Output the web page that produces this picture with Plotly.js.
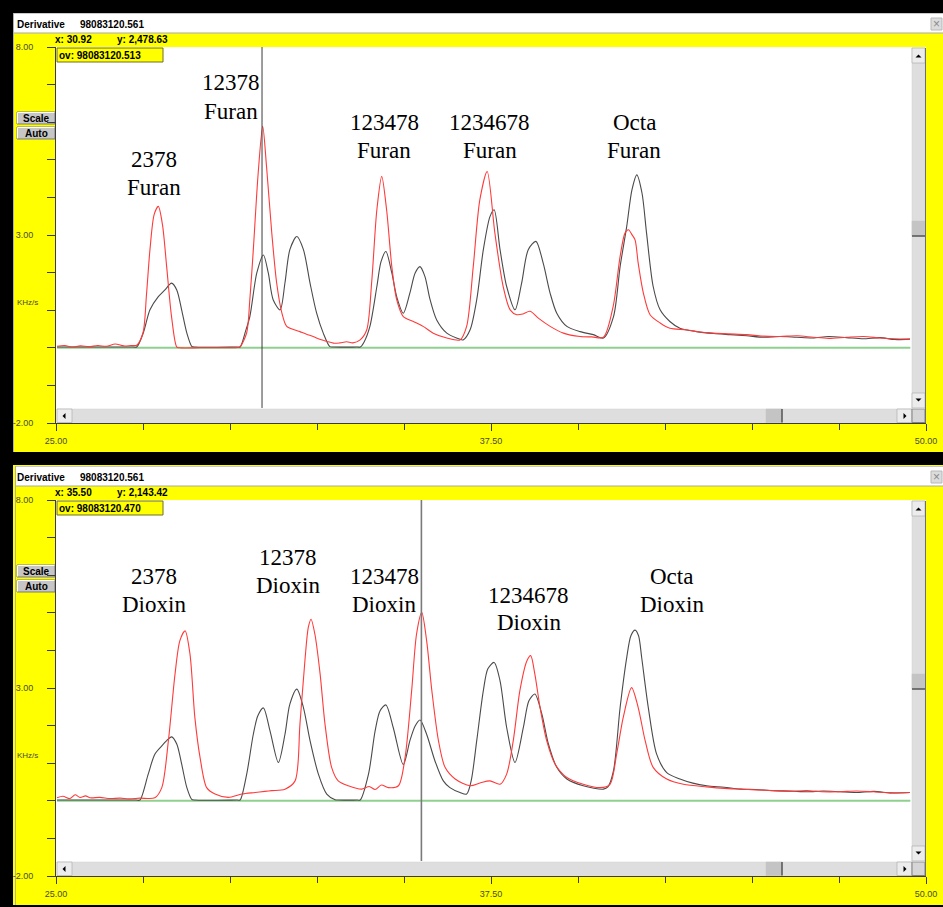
<!DOCTYPE html>
<html><head><meta charset="utf-8">
<script src="https://cdn.plot.ly/plotly-3.0.1.min.js"></script>
<style>html,body{margin:0;padding:0;background:#ffff00;} #chart{width:943px;height:907px;}</style>
</head><body><div id="chart"></div><script>
// ---------------- DATA ----------------
const runId = '98083120.561';
const ovValues = ['98083120.513', '98083120.470'];
const cursorX = [30.92, 35.50];
const cursorY = [2478.63, 2143.42];

const xTickVals = [25, 37.5, 50];
const yTickVals = [-2, 3, 8];

const isomers = ['2378', '12378', '123478', '1234678', 'Octa'];
const furanName = 'Furan';
const dioxinName = 'Dioxin';

const baselineX = [25.03, 49.55];
const baselineY = [0, 0];

// top panel: furans, red trace
const furanRedX = [
25.03, 25.25, 25.45, 25.70, 25.95, 26.20, 26.45, 26.70, 26.95, 27.15,
27.32, 27.50, 27.60, 27.70, 27.82, 27.94, 28.06, 28.18, 28.32, 28.47,
28.55, 29.14, 30.22, 30.29, 30.48, 30.57, 30.67, 30.81, 30.94, 31.05,
31.20, 31.34, 31.49, 31.63, 32.01, 32.20, 32.39, 32.60, 32.78, 33.00,
33.16, 33.35, 33.53, 33.74, 33.93, 34.07, 34.22, 34.36, 34.50, 34.65,
34.79, 34.98, 35.27, 35.55, 35.84, 36.23, 36.61, 36.80, 36.99, 37.18,
37.39, 37.61, 37.85, 38.05, 38.24, 38.42, 38.62, 38.86, 39.20, 39.58,
40.06, 40.40, 40.73, 41.01, 41.21, 41.35, 41.45, 41.55, 41.64, 41.73,
41.88, 42.07, 42.36, 42.64, 43.12, 43.50, 43.89, 44.30, 44.85, 45.30,
45.80, 46.30, 46.76, 47.20, 47.72, 48.20, 48.68, 49.10, 49.54];
const furanRedY = [
0.04, 0.06, 0.02, 0.05, 0.03, 0.06, 0.04, 0.10, 0.05, 0.06,
0.07, 0.40, 1.41, 2.61, 3.54, 3.76, 3.27, 2.16, 0.83, 0.02,
0.00, 0.00, 0.01, 0.03, 0.40, 1.28, 2.61, 4.65, 5.89, 4.82,
3.06, 1.73, 0.93, 0.57, 0.43, 0.36, 0.30, 0.22, 0.17, 0.12,
0.13, 0.16, 0.13, 0.21, 0.48, 1.73, 3.67, 4.56, 3.67, 2.16,
1.28, 0.83, 0.70, 0.57, 0.39, 0.26, 0.21, 0.57, 2.16, 3.94,
4.69, 3.06, 1.63, 1.01, 0.88, 0.90, 0.97, 0.79, 0.57, 0.39,
0.30, 0.29, 0.28, 1.10, 2.43, 3.05, 3.14, 3.01, 2.87, 2.25,
1.45, 0.88, 0.66, 0.52, 0.48, 0.42, 0.39, 0.37, 0.35, 0.31,
0.30, 0.32, 0.28, 0.25, 0.28, 0.30, 0.26, 0.24, 0.23];

// top panel: furans, dark grey trace
const furanGreyX = [
25.03, 25.20, 27.22, 27.32, 27.51, 27.70, 27.94, 28.13, 28.32, 28.47,
28.61, 28.76, 28.90, 28.98, 30.21, 30.29, 30.45, 30.57, 30.77, 30.96,
31.10, 31.24, 31.44, 31.58, 31.72, 31.92, 32.11, 32.30, 32.49, 32.68,
32.87, 32.97, 33.66, 33.74, 33.85, 34.02, 34.22, 34.34, 34.48, 34.65,
34.79, 34.98, 35.17, 35.32, 35.46, 35.60, 35.75, 35.94, 36.23, 36.51,
36.70, 36.90, 37.09, 37.28, 37.47, 37.59, 37.76, 37.95, 38.19, 38.38,
38.57, 38.79, 39.00, 39.20, 39.39, 39.68, 40.06, 40.44, 40.73, 41.02,
41.21, 41.40, 41.55, 41.69, 41.84, 41.97, 42.16, 42.36, 42.64, 42.93,
43.41, 43.90, 44.37, 44.85, 45.33, 45.80, 46.28, 46.75, 47.20, 47.72,
48.20, 48.68, 49.10, 49.54];
const furanGreyY = [
0.02, 0.02, 0.02, 0.02, 0.40, 1.01, 1.36, 1.54, 1.72, 1.54,
1.01, 0.39, 0.04, 0.02, 0.02, 0.02, 0.45, 0.83, 1.99, 2.47,
1.99, 1.28, 1.01, 1.73, 2.61, 2.96, 2.61, 1.72, 0.92, 0.39,
0.03, 0.02, 0.02, 0.02, 0.15, 0.57, 1.63, 2.29, 2.56, 1.99,
1.36, 0.92, 1.46, 1.99, 2.16, 1.90, 1.28, 0.74, 0.39, 0.26,
0.21, 0.48, 1.28, 2.61, 3.49, 3.67, 2.61, 1.63, 1.01, 1.72,
2.61, 2.83, 2.25, 1.45, 0.92, 0.57, 0.43, 0.35, 0.26, 0.83,
2.16, 3.23, 4.20, 4.60, 4.11, 3.05, 1.63, 1.01, 0.70, 0.52,
0.43, 0.38, 0.35, 0.32, 0.28, 0.30, 0.28, 0.26, 0.30, 0.27,
0.24, 0.27, 0.22, 0.23];

// bottom panel: dioxins, red trace
const dioxinRedX = [
25.03, 25.20, 25.40, 25.55, 25.69, 25.85, 25.98, 26.26, 26.55, 26.84,
27.10, 27.41, 27.84, 28.04, 28.23, 28.42, 28.56, 28.71, 28.85, 28.99,
29.14, 29.33, 29.57, 29.95, 30.34, 30.72, 31.00, 31.20, 31.58, 31.87,
32.01, 32.16, 32.25, 32.33, 32.44, 32.59, 32.73, 32.92, 33.11, 33.40,
33.78, 34.00, 34.17, 34.35, 34.55, 34.84, 35.03, 35.22, 35.36, 35.51,
35.65, 35.80, 35.99, 36.18, 36.47, 36.90, 37.20, 37.47, 37.76, 37.95,
38.14, 38.33, 38.53, 38.64, 38.76, 38.91, 39.10, 39.34, 39.68, 40.15,
40.63, 40.92, 41.11, 41.30, 41.54, 41.73, 41.93, 42.16, 42.55, 43.03,
43.70, 44.20, 44.66, 45.10, 45.61, 46.10, 46.57, 47.00, 47.53, 48.00,
48.49, 49.00, 49.54];
const dioxinRedY = [
0.08, 0.12, 0.06, 0.16, 0.09, 0.13, 0.08, 0.09, 0.06, 0.07,
0.05, 0.07, 0.08, 0.35, 1.60, 3.37, 4.26, 4.52, 3.90, 2.22,
1.15, 0.35, 0.18, 0.09, 0.18, 0.22, 0.25, 0.27, 0.31, 0.53,
2.04, 3.81, 4.61, 4.83, 4.43, 3.37, 2.04, 0.89, 0.53, 0.40,
0.31, 0.38, 0.30, 0.42, 0.35, 0.40, 1.15, 2.93, 4.43, 5.01,
4.26, 2.93, 1.60, 0.89, 0.58, 0.40, 0.48, 0.53, 0.44, 0.71,
1.60, 2.93, 3.72, 3.86, 3.37, 2.48, 1.60, 0.98, 0.62, 0.44,
0.35, 0.44, 1.24, 2.22, 3.01, 2.48, 1.60, 0.89, 0.58, 0.44,
0.37, 0.33, 0.31, 0.29, 0.27, 0.25, 0.27, 0.24, 0.24, 0.26,
0.24, 0.21, 0.22];

// bottom panel: dioxins, dark grey trace
const dioxinGreyX = [
25.03, 25.20, 27.30, 27.41, 27.65, 27.84, 28.04, 28.18, 28.32, 28.47,
28.61, 28.76, 28.90, 28.98, 30.21, 30.29, 30.48, 30.67, 30.80, 30.96,
31.15, 31.39, 31.58, 31.72, 31.92, 32.11, 32.30, 32.54, 32.78, 33.02,
33.10, 33.66, 33.74, 33.98, 34.17, 34.31, 34.48, 34.69, 34.98, 35.17,
35.32, 35.46, 35.65, 35.89, 36.13, 36.32, 36.61, 36.80, 36.93, 37.09,
37.28, 37.41, 37.59, 37.76, 37.95, 38.19, 38.43, 38.59, 38.76, 38.96,
39.15, 39.39, 39.68, 40.15, 40.73, 40.86, 41.02, 41.21, 41.40, 41.52,
41.64, 41.74, 41.83, 42.02, 42.26, 42.55, 42.93, 43.30, 43.70, 44.20,
44.66, 45.10, 45.61, 46.10, 46.60, 47.05, 47.53, 48.00, 48.50, 49.00,
49.54];
const dioxinGreyY = [
0.02, 0.02, 0.02, 0.02, 0.71, 1.24, 1.46, 1.60, 1.70, 1.51,
0.98, 0.35, 0.04, 0.02, 0.02, 0.02, 0.71, 1.77, 2.26, 2.47,
1.86, 1.02, 1.77, 2.57, 2.97, 2.48, 1.60, 0.71, 0.18, 0.03,
0.02, 0.02, 0.02, 0.71, 1.86, 2.39, 2.55, 1.95, 0.96, 1.60,
1.99, 2.15, 1.77, 1.06, 0.53, 0.35, 0.22, 0.18, 0.53, 1.60,
2.93, 3.51, 3.68, 3.19, 1.95, 1.02, 1.95, 2.66, 2.84, 2.31,
1.51, 0.89, 0.58, 0.40, 0.31, 0.37, 0.80, 2.48, 3.81, 4.39,
4.54, 4.39, 3.81, 2.48, 1.24, 0.75, 0.58, 0.47, 0.40, 0.36,
0.31, 0.30, 0.27, 0.26, 0.24, 0.26, 0.24, 0.22, 0.25, 0.21,
0.22];

// ---------------- PLACEMENT / STYLE ----------------
const W = 943, H = 907, OFF = 453;
const PX = p => p / W, PY = p => 1 - p / H;
const labelPos = {
  top:    [[27.82, 5.00, 4.26], [30.03, 7.05, 6.28], [34.43, 5.98, 5.24], [37.47, 5.98, 5.24], [41.61, 5.98, 5.24]],
  bottom: [[27.82, 5.96, 5.21], [31.67, 6.46, 5.72], [34.43, 5.96, 5.21], [38.59, 5.45, 4.73], [42.70, 5.96, 5.21]]
};
const RED = '#ff3a3a', GREY = '#4a4a4a', GREEN = '#8fd08f';
const UI = 'Liberation Sans, Arial, sans-serif';
const TXT = '#4a4a2e';

function line(x, y, xa, ya, color, width, smooth) {
  return {type: 'scatter', mode: 'lines', x: x, y: y, xaxis: xa, yaxis: ya,
          line: smooth ? {color: color, width: width, shape: 'spline', smoothing: 0.8} : {color: color, width: width},
          hoverinfo: 'skip', showlegend: false};
}
const traces = [
  line(baselineX, baselineY, 'x', 'y', GREEN, 2, false),
  line(furanGreyX, furanGreyY, 'x', 'y', GREY, 1.1, true),
  line(furanRedX, furanRedY, 'x', 'y', RED, 1.1, true),
  line(baselineX, baselineY, 'x2', 'y2', GREEN, 2, false),
  line(dioxinGreyX, dioxinGreyY, 'x2', 'y2', GREY, 1.1, true),
  line(dioxinRedX, dioxinRedY, 'x2', 'y2', RED, 1.1, true)
];

function xAxis(anchor) {
  return {domain: [PX(56), PX(926)], range: [25, 50], anchor: anchor,
    tickmode: 'array', tickvals: xTickVals, ticktext: xTickVals.map(v => v.toFixed(2)),
    ticks: 'outside', ticklen: 7, tickwidth: 1, tickcolor: '#3c3c3c',
    showline: true, linecolor: '#3c3c3c', linewidth: 1, showgrid: false, zeroline: false,
    tickfont: {family: UI, size: 9, color: TXT}, ticklabelstandoff: 2,
    minor: {tick0: 25, dtick: 2.5, ticks: 'outside', ticklen: 6, tickwidth: 1, tickcolor: '#3c3c3c', showgrid: false},
    fixedrange: true};
}
function yAxis(o, anchor) {
  return {domain: [PY(423 + o), PY(47 + o)], range: [-2, 8], anchor: anchor,
    tickmode: 'array', tickvals: yTickVals, ticktext: yTickVals.map(v => v.toFixed(2)),
    ticks: 'outside', ticklen: 8, tickwidth: 1, tickcolor: '#3c3c3c',
    showline: true, linecolor: '#3c3c3c', linewidth: 1, showgrid: false, zeroline: false,
    tickfont: {family: UI, size: 9, color: TXT}, ticklabelstandoff: 12,
    minor: {tick0: -2, dtick: 1, ticks: 'outside', ticklen: 8, tickwidth: 1, tickcolor: '#3c3c3c', showgrid: false},
    fixedrange: true};
}

const shapes = [];
function rect(x0, y0, x1, y1, fill, lc, lw, layer) {
  shapes.push({type: 'rect', xref: 'paper', yref: 'paper', x0: PX(x0), x1: PX(x1), y0: PY(y1), y1: PY(y0),
    fillcolor: fill, line: {color: lc || fill, width: lw || 0}, layer: layer || 'below'});
}
function seg(x0, y0, x1, y1, color, w, layer) {
  shapes.push({type: 'line', xref: 'paper', yref: 'paper', x0: PX(x0), x1: PX(x1), y0: PY(y0), y1: PY(y1),
    line: {color: color, width: w || 1}, layer: layer || 'below'});
}
function tri(cx, cy, dir) {
  const s = 3;
  let p;
  if (dir === 'L') p = [[cx + 1.5, cy - s], [cx + 1.5, cy + s], [cx - 1.5, cy]];
  if (dir === 'R') p = [[cx - 1.5, cy - s], [cx - 1.5, cy + s], [cx + 1.5, cy]];
  if (dir === 'U') p = [[cx - s, cy + 1.5], [cx + s, cy + 1.5], [cx, cy - 1.5]];
  if (dir === 'D') p = [[cx - s, cy - 1.5], [cx + s, cy - 1.5], [cx, cy + 1.5]];
  shapes.push({type: 'path', xref: 'paper', yref: 'paper',
    path: 'M' + p.map(q => PX(q[0]) + ',' + PY(q[1])).join('L') + 'Z',
    fillcolor: '#000', line: {width: 0}, layer: 'above'});
}

// outer black frame
rect(0, 0, 943, 13, '#000');
rect(0, 0, 13, 907, '#000');
rect(0, 452, 943, 465, '#000');
rect(0, 905, 943, 907, '#000');

const annotations = [];
function txt(x, y, text, size, opts) {
  opts = opts || {};
  annotations.push(Object.assign({xref: 'paper', yref: 'paper', x: PX(x), y: PY(y), text: text, showarrow: false,
    xanchor: 'left', yanchor: 'middle', font: {family: UI, size: size, color: '#000'}}, opts));
}

[0, OFF].forEach((o, i) => {
  const tx = i === 0 ? 13 : 15;
  // title bar
  rect(tx, 13 + o, 943, 33 + o, '#ffffff');
  seg(tx, 13.5 + o, 943, 13.5 + o, '#c8c8c8', 1);
  seg(tx, 33 + o, 943, 33 + o, '#a8a8a8', 1);
  seg(tx + 0.5, 13 + o, tx + 0.5, 452 + o, '#b0b0b0', 1);
  rect(931, 18 + o, 942, 30 + o, '#dcdcdc', '#b8b8b8', 1);
  txt(936.5, 24 + o, '×', 12, {xanchor: 'center', font: {family: UI, size: 12, color: '#8a8a8a'}});
  txt(15, 24 + o, '<b>Derivative</b>', 10);
  txt(78, 24 + o, '<b>' + runId + '</b>', 10);
  txt(53, 40 + o, '<b>x: ' + cursorX[i].toFixed(2) + '</b>', 10);
  txt(115, 40 + o, '<b>y: ' + cursorY[i].toLocaleString('en-US', {minimumFractionDigits: 2, maximumFractionDigits: 2}) + '</b>', 10);
  // ov box
  rect(57, 48 + o, 163, 62 + o, '#ffff00', '#6e6e20', 1, 'above');
  txt(57, 55.5 + o, '<b>ov: ' + ovValues[i] + '</b>', 10);
  // Scale / Auto buttons
  [[112, 124, 'Scale'], [127, 139, 'Auto']].forEach(b => {
    rect(17, b[0] + o, 55, b[1] + o, '#c6c6c6', '#7a7a7a', 1);
    seg(17.5, b[0] + o + 0.5, 54.5, b[0] + o + 0.5, '#ffffff', 1);
    seg(17.5, b[0] + o + 0.5, 17.5, b[1] + o - 0.5, '#ffffff', 1);
    txt(36, (b[0] + b[1]) / 2 + o, '<b>' + b[2] + '</b>', 10, {xanchor: 'center'});
  });
  txt(15, 302 + o, 'KHz/s', 8, {font: {family: UI, size: 8, color: TXT}});
  // horizontal scrollbar
  rect(57, 409 + o, 912, 422.5 + o, '#dedede', '#d0d0d0', 0.5, 'above');
  rect(57, 409 + o, 72, 422.5 + o, '#ececec', '#9a9a9a', 0.5, 'above');
  tri(64, 416 + o, 'L');
  rect(897, 409 + o, 912, 422.5 + o, '#ececec', '#9a9a9a', 0.5, 'above');
  tri(905, 416 + o, 'R');
  rect(766, 409 + o, 782, 422.5 + o, '#c4c4c4', '#c4c4c4', 0.5, 'above');
  seg(782, 409 + o, 782, 422.5 + o, '#555', 1.5, 'above');
  // corner
  rect(912, 409 + o, 925, 422.5 + o, '#d6d6d6', '#808080', 1, 'above');
  // vertical scrollbar
  rect(912, 48 + o, 925, 409 + o, '#dedede', '#d0d0d0', 0.5, 'above');
  rect(912, 48 + o, 925, 63 + o, '#ececec', '#9a9a9a', 0.5, 'above');
  tri(918.5, 56 + o, 'U');
  rect(912, 393 + o, 925, 408 + o, '#ececec', '#9a9a9a', 0.5, 'above');
  tri(918.5, 400 + o, 'D');
  rect(912, 221 + o, 925, 236 + o, '#c4c4c4', '#c4c4c4', 0.5, 'above');
  seg(912, 236 + o, 925, 236 + o, '#555', 1.5, 'above');
  seg(925.5, 48 + o, 925.5, 423 + o, '#707070', 1, 'above');
});

// cursor lines (data coordinates)
shapes.push({type: 'line', xref: 'x', yref: 'y', x0: cursorX[0], x1: cursorX[0], y0: -1.6, y1: 8,
  line: {color: '#3a3a3a', width: 1}, layer: 'above'});
shapes.push({type: 'line', xref: 'x2', yref: 'y2', x0: cursorX[1], x1: cursorX[1], y0: -1.6, y1: 8,
  line: {color: '#7a7a7a', width: 1.6}, layer: 'above'});

// peak labels
function peakLabels(pos, name, xr, yr) {
  isomers.forEach((iso, k) => {
    const p = pos[k];
    [[iso, p[1]], [name, p[2]]].forEach(l => {
      annotations.push({xref: xr, yref: yr, x: p[0], y: l[1], text: l[0], showarrow: false,
        xanchor: 'center', yanchor: 'middle',
        font: {family: 'Liberation Serif, Times New Roman, serif', size: 23, color: '#000'}});
    });
  });
}
peakLabels(labelPos.top, furanName, 'x', 'y');
peakLabels(labelPos.bottom, dioxinName, 'x2', 'y2');

const layout = {
  width: W, height: H, margin: {l: 0, r: 0, t: 0, b: 0, pad: 0},
  paper_bgcolor: '#ffff00', plot_bgcolor: '#ffffff', showlegend: false,
  xaxis: xAxis('y'), yaxis: yAxis(0, 'x'),
  xaxis2: xAxis('y2'), yaxis2: yAxis(OFF, 'x2'),
  shapes: shapes, annotations: annotations
};
Plotly.newPlot('chart', traces, layout, {staticPlot: true, displayModeBar: false});
</script></body></html>
